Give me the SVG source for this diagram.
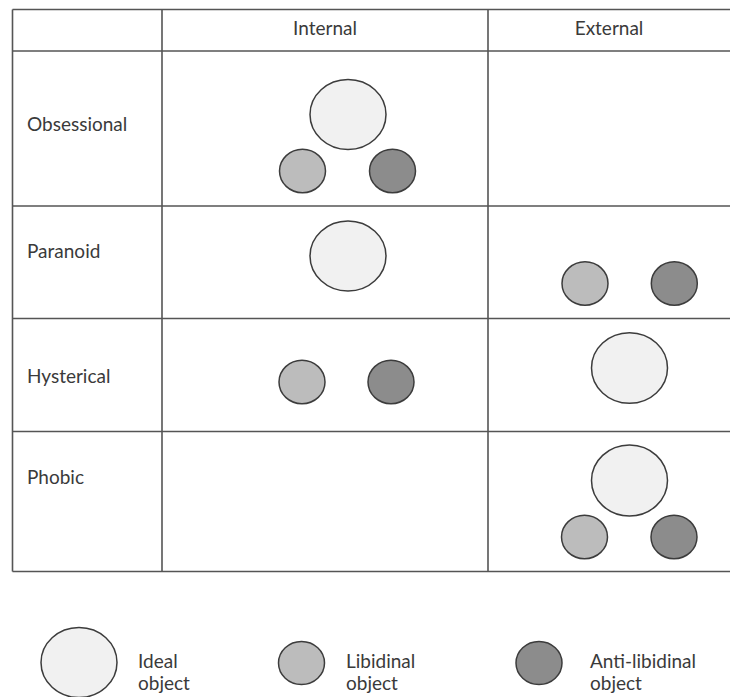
<svg xmlns="http://www.w3.org/2000/svg" width="730" height="697" viewBox="0 0 730 697">
<style>
.grid{stroke:#555;stroke-width:1.6;fill:none}
.t{font-family:Lato,"Open Sans","Liberation Sans",sans-serif;font-size:19px;fill:#3a3a3a}
.ideal{fill:#f1f1f1;stroke:#3c3c3c;stroke-width:1.5}
.lib{fill:#bcbcbc;stroke:#3c3c3c;stroke-width:1.5}
.anti{fill:#8c8c8c;stroke:#3c3c3c;stroke-width:1.5}
</style>
<rect width="730" height="697" fill="#ffffff"/>
<g id="table">
<path class="grid" d="M12.5 9.5 H731 M12.5 51 H731 M12.5 206 H731 M12.5 318.5 H731 M12.5 431.5 H731 M12.5 571.5 H731 M12.5 9.5 V571.5 M162 9.5 V571.5 M488 9.5 V571.5"/>
</g>
<g id="headers">
<text class="t" x="325" y="35" text-anchor="middle">Internal</text>
<text class="t" x="609" y="35" text-anchor="middle">External</text>
</g>
<g id="row-obsessional">
<text class="t" x="27" y="131">Obsessional</text>
<ellipse class="ideal" cx="348" cy="114.5" rx="38" ry="35"/>
<ellipse class="lib" cx="302.5" cy="171" rx="23" ry="21.7"/>
<ellipse class="anti" cx="392.5" cy="171" rx="23" ry="21.7"/>
</g>
<g id="row-paranoid">
<text class="t" x="27" y="258">Paranoid</text>
<ellipse class="ideal" cx="348" cy="256" rx="38" ry="35"/>
<ellipse class="lib" cx="585" cy="283.5" rx="23" ry="21.7"/>
<ellipse class="anti" cx="674.3" cy="283.5" rx="23" ry="21.7"/>
</g>
<g id="row-hysterical">
<text class="t" x="27" y="383">Hysterical</text>
<ellipse class="lib" cx="302" cy="382" rx="23" ry="21.7"/>
<ellipse class="anti" cx="391" cy="382" rx="23" ry="21.7"/>
<ellipse class="ideal" cx="629.5" cy="368" rx="38" ry="35.3"/>
</g>
<g id="row-phobic">
<text class="t" x="27" y="484">Phobic</text>
<ellipse class="ideal" cx="629.5" cy="480.5" rx="38" ry="35.5"/>
<ellipse class="lib" cx="584.5" cy="537" rx="23" ry="21.7"/>
<ellipse class="anti" cx="674" cy="537" rx="23" ry="21.7"/>
</g>
<g id="legend-ideal">
<ellipse class="ideal" cx="79" cy="662.5" rx="38" ry="35"/>
<text class="t" x="138" y="668">Ideal</text>
<text class="t" x="138" y="690">object</text>
</g>
<g id="legend-libidinal">
<ellipse class="lib" cx="301.5" cy="663" rx="23" ry="21.5"/>
<text class="t" x="346" y="668">Libidinal</text>
<text class="t" x="346" y="690">object</text>
</g>
<g id="legend-anti">
<ellipse class="anti" cx="539" cy="663" rx="23" ry="21.5"/>
<text class="t" x="590" y="668">Anti-libidinal</text>
<text class="t" x="590" y="690">object</text>
</g>
</svg>
